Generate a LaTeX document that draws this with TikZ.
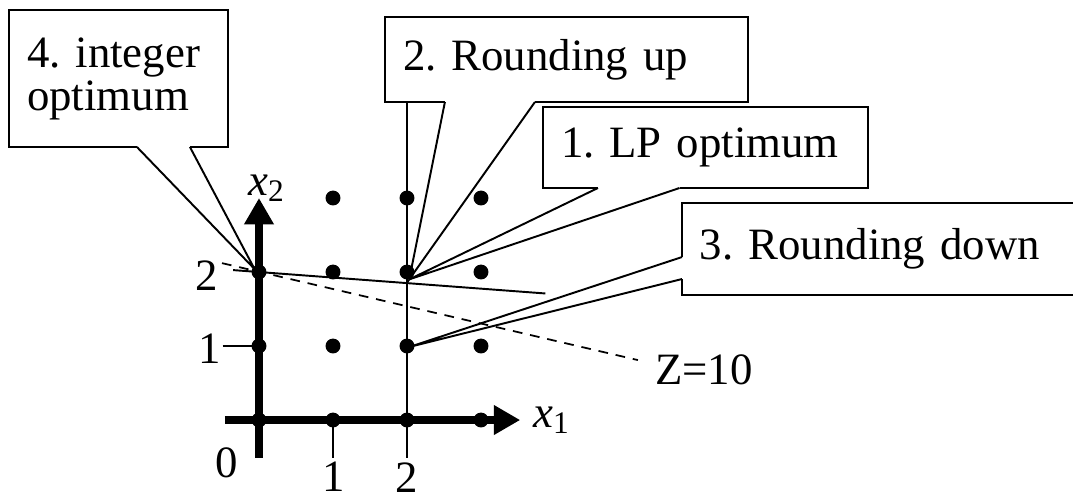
\documentclass[tikz,border=0pt]{standalone}
\usepackage{fontspec}
\setmainfont{Liberation Serif}
\usetikzlibrary{calc,arrows.meta}

\newcommand{\boxfont}{\fontsize{25.5}{24.5}\selectfont\frenchspacing\hyphenpenalty=10000\relax}

% pointer of a callout: base start, tip, base end
\newcommand{\callptr}[3]{%
  \draw[white, line width=1.6pt] (#1) -- (#3);
  \draw[line width=1.1pt] (#1) -- (#2) -- (#3);
}

\begin{document}
\begin{tikzpicture}[x=1.48cm, y=1.48cm,
    callbox/.style={draw, fill=white, line width=1.1pt, outer sep=0pt,
      anchor=north west, align=left, inner xsep=0.36cm, inner ysep=0pt,
      font=\boxfont},
    lbl/.style={font=\fontsize{25.5}{30}\selectfont, inner sep=0pt},
    axis/.style={line width=4.5pt, -{Triangle[length=15pt, width=16pt]}},
    thin/.style={line width=1.1pt},
    dot/.style={circle, fill, inner sep=0pt, minimum size=8.5pt}]
    \useasboundingbox (-3.5,-1.081) rectangle (11,5.676);
    \clip (-3.5,-1.081) rectangle (11,5.676);

    % callout boxes
    \node[callbox, text width=3.66cm, minimum height=2.74cm]
          (intopt) at (-3.378,5.541) {4. integer\\optimum};
    \node[callbox, text width=6.54cm, minimum height=1.7cm]
          (rndup) at (1.703,5.446) {2. Rounding up};
    \node[callbox, text width=5.78cm, minimum height=1.62cm]
          (lpopt) at (3.838,4.230) {1. LP optimum};
    \node[callbox, text width=7.2cm, minimum height=1.84cm]
          (rnddown) at (5.716,2.932) {3. Rounding down};

    % tips of the pointers
    \coordinate (lp) at (2.03,1.9);
    \coordinate (dn) at (2.04,0.99);
    \coordinate (io) at (-0.06,2.04);

    % grid lines and ticks
    \coordinate (t2) at (2,-0.51);
    \draw[thin] (t2) -- (t2 |- rndup.south);
    \draw[thin] (1,0) -- (1,-0.51);
    \draw[thin] (-0.49,1) -- (0,1);

    % objective and constraint
    \draw[line width=1pt, dash pattern=on 5.5pt off 4.5pt] (-0.5,2.12) -- (5.12,0.81);
    \draw[thin] (-0.35,2.026) -- (3.87,1.71);

    % pointers
    \callptr{$(intopt.south west)!0.584!(intopt.south east)$}{io}{$(intopt.south west)!0.826!(intopt.south east)$}
    \callptr{$(rndup.south west)!0.165!(rndup.south east)$}{lp}{$(rndup.south west)!0.413!(rndup.south east)$}
    \callptr{$(lpopt.south west)!0.169!(lpopt.south east)$}{lp}{$(lpopt.south west)!0.42!(lpopt.south east)$}
    \callptr{$(rnddown.north west)!0.587!(rnddown.south west)$}{dn}{$(rnddown.north west)!0.826!(rnddown.south west)$}

    % axes
    \draw[axis] (-0.46,0) -- (3.53,0);
    \draw[axis] (0,-0.51) -- (0,3.0);

    % integer points
    \foreach \i/\j in {1/3,2/3,3/3,0/2,1/2,2/2,3/2,0/1,1/1,2/1,3/1,0/0,1/0,2/0,3/0}
        \node[dot] (p\i\j) at (\i,\j) {};

    % labels
    \node[lbl, anchor=west] (xone) at (3.70,0) {\textit{x}\textsubscript{1}};
    \node[lbl] (xtwo) at (0.1,3.13) {\textit{x}\textsubscript{2}};
    \node[lbl] (zero) at (-0.43,-0.58) {0};
    \node[lbl] (xa) at (1.01,-0.77) {1};
    \node[lbl] (xb) at (1.99,-0.78) {2};
    \node[lbl] (ya) at (-0.66,0.97) {1};
    \node[lbl] (yb) at (-0.70,1.95) {2};
    \node[lbl, anchor=west] (zval) at (5.35,0.68) {Z=10};
\end{tikzpicture}
\end{document}
